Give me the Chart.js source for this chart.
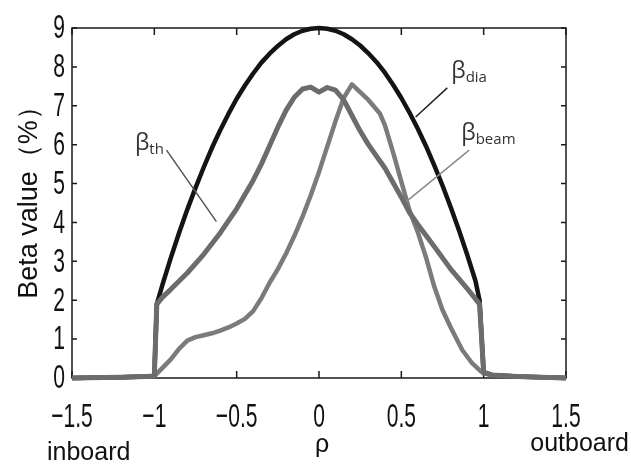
<!DOCTYPE html>
<html lang="en">
<head>
    <meta charset="UTF-8">
    <title>Beta value profile</title>
    <script src="https://cdn.jsdelivr.net/npm/chart.js"></script>
    <style>
        body { margin: 0; background: #fff; }
        #wrap { width: 631px; height: 467px; }
    </style>
</head>
<body>
    <div id="wrap"><canvas id="myChart"></canvas></div>

    <script>
        // values
        const rhoDia  = [-1.5, -1.2, -1.05, -1.0, -0.985, -0.95, -0.9, -0.85, -0.8, -0.75, -0.7, -0.65, -0.6, -0.55, -0.5, -0.45, -0.4, -0.35, -0.3, -0.25, -0.2, -0.15, -0.1, -0.05, 0,
                         0.05, 0.1, 0.15, 0.2, 0.25, 0.3, 0.35, 0.4, 0.45, 0.5, 0.55, 0.6, 0.65, 0.7, 0.75, 0.8, 0.85, 0.9, 0.95, 0.975, 1.0, 1.05, 1.2, 1.5];
        const betaDia = [0, 0.02, 0.04, 0.05, 1.9, 2.41, 3.09, 3.73, 4.33, 4.89, 5.42, 5.92, 6.37, 6.79, 7.18, 7.52, 7.83, 8.11, 8.34, 8.54, 8.71, 8.84, 8.93, 8.98, 9.0,
                         8.98, 8.93, 8.84, 8.71, 8.55, 8.35, 8.12, 7.85, 7.54, 7.2, 6.82, 6.41, 5.96, 5.47, 4.95, 4.39, 3.8, 3.17, 2.5, 2.0, 0.12, 0.08, 0.04, 0];

        const rhoTh  = [-1.5, -1.2, -1.05, -1.0, -0.985, -0.95, -0.9, -0.8, -0.7, -0.6, -0.5, -0.4, -0.35, -0.3, -0.25, -0.2, -0.15, -0.1, -0.05, 0, 0.05, 0.1, 0.15, 0.2, 0.25, 0.3, 0.4, 0.5, 0.55, 0.6, 0.7, 0.8, 0.9, 0.975, 1.0, 1.05, 1.2, 1.5];
        const betaTh = [0, 0.02, 0.04, 0.05, 1.9, 2.08, 2.28, 2.7, 3.18, 3.73, 4.35, 5.08, 5.5, 5.97, 6.45, 6.88, 7.22, 7.43, 7.48, 7.35, 7.47, 7.4, 7.15, 6.75, 6.35, 6.0, 5.4, 4.65, 4.25, 3.95, 3.38, 2.8, 2.3, 1.9, 0.15, 0.08, 0.04, 0];

        const rhoBeam  = [-1.5, -1.2, -1.05, -1.0, -0.9, -0.85, -0.8, -0.75, -0.7, -0.65, -0.6, -0.55, -0.5, -0.45, -0.4, -0.35, -0.3, -0.25, -0.2, -0.15, -0.1, -0.05, 0, 0.05, 0.1, 0.15, 0.2,
                          0.25, 0.3, 0.37, 0.4, 0.45, 0.5, 0.55, 0.6, 0.65, 0.7, 0.75, 0.8, 0.87, 0.93, 0.975, 1.0, 1.05, 1.2, 1.5];
        const betaBeam = [0, 0.02, 0.04, 0.05, 0.48, 0.75, 0.96, 1.05, 1.1, 1.15, 1.22, 1.3, 1.4, 1.52, 1.72, 2.05, 2.45, 2.8, 3.2, 3.65, 4.15, 4.7, 5.3, 5.95, 6.6, 7.2, 7.55,
                          7.35, 7.15, 6.8, 6.5, 5.8, 5.05, 4.3, 3.75, 3.1, 2.35, 1.75, 1.3, 0.72, 0.38, 0.2, 0.12, 0.08, 0.04, 0];

        const xTicks = [-1.5, -1, -0.5, 0, 0.5, 1, 1.5];
        const yTicks = [0, 1, 2, 3, 4, 5, 6, 7, 8, 9];

        const pts = (xs, ys) => xs.map((x, i) => ({ x: x, y: ys[i] }));
        const fmt = v => v < 0 ? '\u2212' + Math.abs(v) : String(v);

        // curve labels with leader lines (in data units)
        const curveLabels = [
            { main: '\u03b2', sub: 'dia',  at: [0.803, 7.71], line: [[0.779, 7.46], [0.587, 6.71]], color: '#222' },
            { main: '\u03b2', sub: 'th',   at: [-1.118, 5.86], line: [[-0.926, 5.86], [-0.623, 4.02]], color: '#555' },
            { main: '\u03b2', sub: 'beam', at: [0.864, 6.12], line: [[0.912, 5.86], [0.528, 4.53]], color: '#888' }
        ];

        function narrow(ctx, str, x, y, align, sx) {
            ctx.save();
            ctx.translate(x, y);
            ctx.scale(sx, 1);
            ctx.textAlign = align;
            ctx.fillText(str, 0, 0);
            ctx.restore();
        }

        const frame = {
            id: 'frame',
            beforeDatasetsDraw(chart) {
                const { ctx, chartArea: a, scales: { x, y } } = chart;
                ctx.save();
                ctx.strokeStyle = '#1a1a1a';
                ctx.lineWidth = 1.5;
                ctx.strokeRect(a.left, a.top, a.right - a.left, a.bottom - a.top);
                ctx.beginPath();
                xTicks.forEach(v => {
                    const px = x.getPixelForValue(v);
                    ctx.moveTo(px, a.bottom); ctx.lineTo(px, a.bottom - 7);
                    ctx.moveTo(px, a.top); ctx.lineTo(px, a.top + 7);
                });
                yTicks.forEach(v => {
                    const py = y.getPixelForValue(v);
                    ctx.moveTo(a.left, py); ctx.lineTo(a.left + 5, py);
                    ctx.moveTo(a.right, py); ctx.lineTo(a.right - 5, py);
                });
                ctx.stroke();
                ctx.restore();
            },
            afterDatasetsDraw(chart) {
                const { ctx, scales: { x, y } } = chart;
                ctx.save();
                curveLabels.forEach(l => {
                    ctx.strokeStyle = l.color;
                    ctx.lineWidth = 1.5;
                    ctx.beginPath();
                    ctx.moveTo(x.getPixelForValue(l.line[0][0]), y.getPixelForValue(l.line[0][1]));
                    ctx.lineTo(x.getPixelForValue(l.line[1][0]), y.getPixelForValue(l.line[1][1]));
                    ctx.stroke();

                    const px = x.getPixelForValue(l.at[0]);
                    const py = y.getPixelForValue(l.at[1]);
                    ctx.fillStyle = '#333';
                    ctx.textAlign = 'left';
                    ctx.textBaseline = 'alphabetic';
                    ctx.font = '23px "Open Sans"';
                    ctx.fillText(l.main, px, py);
                    const w = ctx.measureText(l.main).width;
                    ctx.font = '15px "Open Sans"';
                    ctx.fillText(l.sub, px + w, py + 4);
                });
                ctx.restore();
            },
            afterDraw(chart) {
                const { ctx, chartArea: a, scales: { x, y } } = chart;
                ctx.save();
                ctx.fillStyle = '#111';
                ctx.font = '34px "Liberation Sans", Arial, sans-serif';
                ctx.textBaseline = 'alphabetic';
                xTicks.forEach(v => narrow(ctx, fmt(v), x.getPixelForValue(v), 427, 'center', 0.62));
                ctx.textBaseline = 'middle';
                yTicks.forEach(v => narrow(ctx, fmt(v), 65, y.getPixelForValue(v) + 1, 'right', 0.62));

                ctx.font = '25px "Liberation Sans", Arial, sans-serif';
                ctx.textBaseline = 'alphabetic';
                ctx.textAlign = 'left';
                ctx.fillText('inboard', 47, 460);
                ctx.textAlign = 'right';
                ctx.fillText('outboard', 629, 451);
                ctx.textAlign = 'center';
                ctx.fillText('\u03c1', x.getPixelForValue(0) + 3, 452);

                ctx.save();
                ctx.font = '27px "Liberation Sans", Arial, sans-serif';
                ctx.translate(30, 196);
                ctx.rotate(-Math.PI / 2);
                ctx.textAlign = 'center';
                ctx.textBaseline = 'middle';
                ctx.fillText('Beta value\uff08%\uff09', 0, 0);
                ctx.restore();
                ctx.restore();
            }
        };

        const ctx = document.getElementById('myChart').getContext('2d');
        const line = { showLine: true, pointRadius: 0, fill: false, clip: false, tension: 0, borderJoinStyle: 'round' };

        const myChart = new Chart(ctx, {
            type: 'scatter',
            data: {
                datasets: [
                    Object.assign({ label: 'beta_th', data: pts(rhoTh, betaTh), borderColor: '#6c6c6c', borderWidth: 5 }, line),
                    Object.assign({ label: 'beta_beam', data: pts(rhoBeam, betaBeam), borderColor: '#7b7b7b', borderWidth: 4.5 }, line),
                    Object.assign({ label: 'beta_dia', data: pts(rhoDia, betaDia), borderColor: '#141414', borderWidth: 4.5 }, line)
                ]
            },
            options: {
                responsive: true,
                maintainAspectRatio: false,
                animation: false,
                layout: { padding: { left: 72, top: 28, right: 65, bottom: 89 } },
                plugins: { legend: { display: false }, tooltip: { enabled: false } },
                scales: {
                    x: { type: 'linear', min: -1.5, max: 1.5, display: false },
                    y: { type: 'linear', min: 0, max: 9, display: false }
                }
            },
            plugins: [frame]
        });
    </script>
</body>
</html>
